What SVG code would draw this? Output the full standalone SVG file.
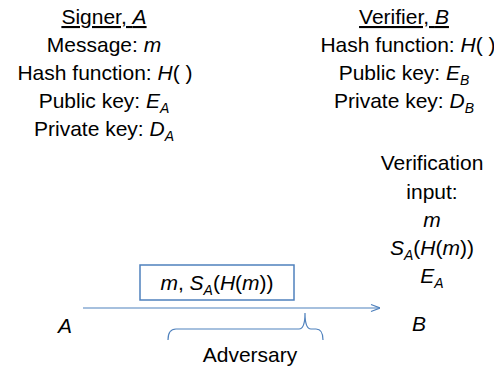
<svg xmlns="http://www.w3.org/2000/svg" width="494" height="368" viewBox="0 0 494 368">
  <defs>
    <style>
      text { font-family: "Liberation Sans", Arial, sans-serif; font-size: 21px; fill: #000; text-anchor: middle; }
      .i { font-style: italic; }
      .sub { font-style: italic; font-size: 14px; }
      .head { text-decoration: underline; }
      .wire { fill: none; stroke: #4f81bd; stroke-width: 1.2; }
      .box { fill: #fff; stroke: #4f81bd; stroke-width: 1.5; }
    </style>
    <marker id="open-arrow" viewBox="0 0 10 10" refX="10" refY="5" markerWidth="10" markerHeight="10" markerUnits="userSpaceOnUse" orient="auto">
      <polyline points="1,1.5 10,5 1,8.5" fill="none" stroke="#4f81bd" stroke-width="1.2"/>
    </marker>
  </defs>

  <!-- Signer's keys -->
  <g id="signer">
    <text x="104" y="24" class="head">Signer, <tspan class="i">A</tspan></text>
    <text x="104" y="52">Message: <tspan class="i">m</tspan></text>
    <text x="105" y="80">Hash function: <tspan class="i">H</tspan>( )</text>
    <text x="104" y="108">Public key: <tspan class="i">E</tspan><tspan class="sub" dy="5">A</tspan></text>
    <text x="104" y="136">Private key: <tspan class="i">D</tspan><tspan class="sub" dy="5">A</tspan></text>
  </g>

  <!-- Verifier's keys -->
  <g id="verifier">
    <text x="404" y="24" class="head">Verifier, <tspan class="i">B</tspan></text>
    <text x="408" y="52">Hash function: <tspan class="i">H</tspan>( )</text>
    <text x="404" y="80">Public key: <tspan class="i">E</tspan><tspan class="sub" dy="5">B</tspan></text>
    <text x="404" y="108">Private key: <tspan class="i">D</tspan><tspan class="sub" dy="5">B</tspan></text>
  </g>

  <!-- What the verifier checks -->
  <g id="verification-input">
    <text x="432" y="170">Verification</text>
    <text x="432" y="199">input:</text>
    <text x="432" y="227" class="i">m</text>
    <text x="432" y="255"><tspan class="i">S</tspan><tspan class="sub" dy="5">A</tspan><tspan dy="-5">(</tspan><tspan class="i">H</tspan>(<tspan class="i">m</tspan>))</text>
    <text x="432" y="283"><tspan class="i">E</tspan><tspan class="sub" dy="5">A</tspan></text>
  </g>

  <!-- Endpoints -->
  <g id="node-a">
    <text x="65" y="333" class="i">A</text>
  </g>
  <g id="node-b">
    <text x="419" y="331" class="i">B</text>
  </g>

  <!-- Connectors -->
  <g id="connectors">
    <line class="wire" x1="83" y1="308" x2="380" y2="308" marker-end="url(#open-arrow)"/>
    <!-- brace marking the adversary's reach -->
    <path class="wire" d="M168,340 Q168,329 176,329 L299,329 Q305,329 305,313 Q305,329 311,329 L316,329 Q323,329 323,340"/>
  </g>

  <!-- Transmitted message -->
  <g id="message">
    <rect class="box" x="140" y="265" width="154" height="35"/>
    <text x="217" y="290"><tspan class="i">m</tspan>, <tspan class="i">S</tspan><tspan class="sub" dy="5">A</tspan><tspan dy="-5">(</tspan><tspan class="i">H</tspan>(<tspan class="i">m</tspan>))</text>
  </g>

  <g id="adversary">
    <text x="250" y="362">Adversary</text>
  </g>
</svg>
